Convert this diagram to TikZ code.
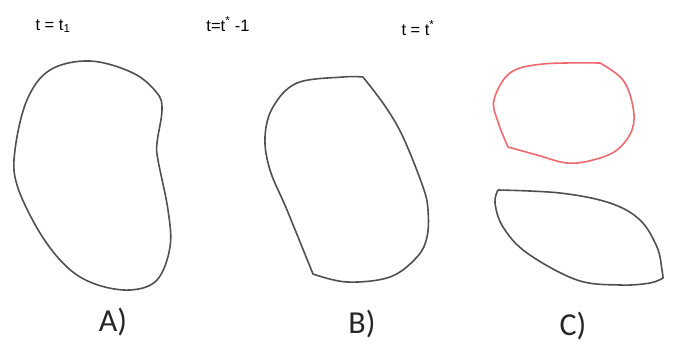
\documentclass[tikz,border=0pt]{standalone}
\usepackage{fontspec}
\setmainfont{Liberation Sans}
\newfontfamily\labelfont{Carlito}
\definecolor{outlinegray}{RGB}{80,80,80}
\definecolor{outlinered}{RGB}{238,105,110}
\begin{document}
\begin{tikzpicture}[x=1pt,y=-1pt,
  outline/.style={draw=outlinegray,line width=1.6pt,line join=round},
  redoutline/.style={draw=outlinered,line width=1.6pt,line join=round},
  ttl/.style={inner sep=0pt,font=\fontsize{16.5}{18}\selectfont},
  partlabel/.style={inner sep=0pt,font=\labelfont\fontsize{32}{34}\selectfont,text=black!85}]
\useasboundingbox (0,0) rectangle (675,346);

% A) t = t_1
\draw[outline] plot[smooth cycle,tension=0.6] coordinates {(90,61) (133,73) (157,93) (162,110) (157,143) (158,160) (168,210) (170,247) (157,280) (130,290) (95,284) (67,267) (40,233) (17,185) (15,150) (27,100) (50,70)};

% B) t = t* - 1
\draw[outline] plot[smooth,tension=0.6] coordinates {(363,77) (385,106) (403,137) (423,187) (428,210) (427,237) (417,257) (390,277) (347,282) (313,274)}
  -- plot[smooth,tension=0.6] coordinates {(313,274) (287,210) (270,170) (265,137) (273,107) (297,83) (343,77) (363,77)};

% C) t = t*, the two parts
\draw[redoutline] plot[smooth,tension=0.6] coordinates {(600,63) (623,80) (633,107) (632,130) (617,150) (593,160) (567,163) (537,155) (508,147)}
  -- plot[smooth,tension=0.6] coordinates {(508,147) (498,122) (494,100) (510,73) (543,64) (600,63)};
\draw[outline] plot[smooth,tension=0.6] coordinates {(498,190) (560,193) (610,203) (640,220) (657,247) (662,270) (663,278)}
  -- plot[smooth,tension=0.6] coordinates {(663,278) (650,283) (620,285) (577,280) (527,253) (503,227) (495,203) (498,190)};

\node[ttl] (ttlA) at (53,26) {t = t\textsubscript{1}};
\node[ttl] (ttlB) at (228,24) {t=t\textsuperscript{*} -1};
\node[ttl] (ttlC) at (418,28) {t = t\textsuperscript{*}};

\node[partlabel] (labA) at (113,322) {A)};
\node[partlabel] (labB) at (362,324) {B)};
\node[partlabel] (labC) at (573,326) {C)};
\end{tikzpicture}
\end{document}
